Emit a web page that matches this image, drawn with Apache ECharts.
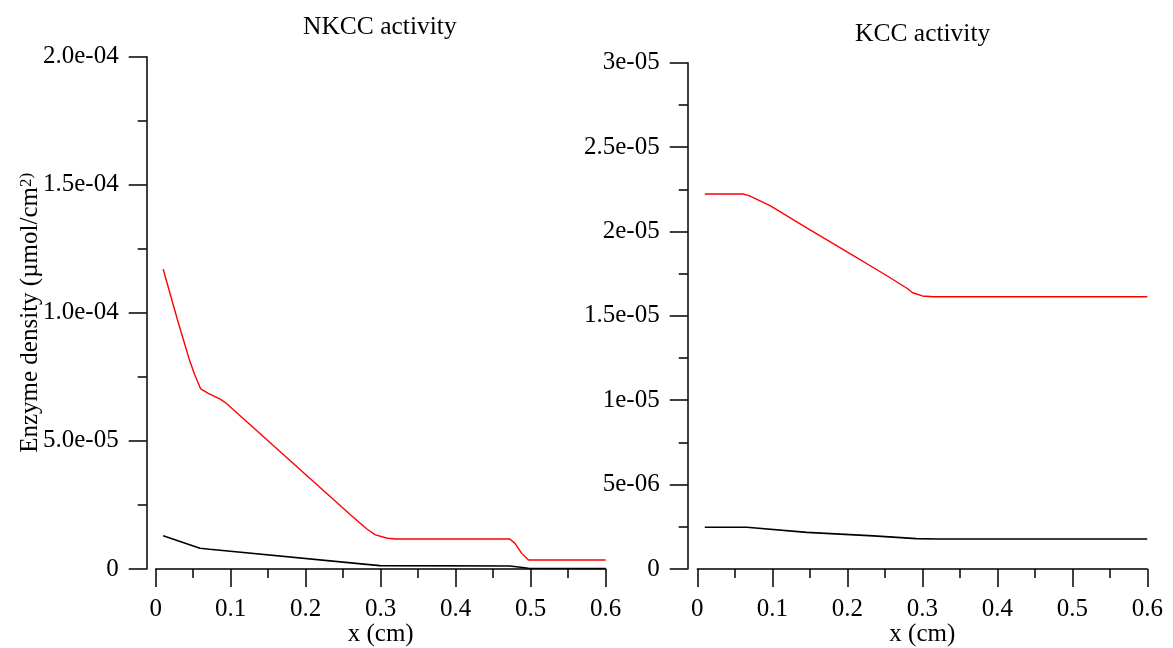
<!doctype html>
<meta charset="utf-8">
<title>NKCC / KCC activity</title>
<style>
	html, body { margin: 0; padding: 0; background: #fff; }
	#chart { width: 1173px; height: 648px; }
</style>
<div id="chart"></div>
<script src="https://cdn.jsdelivr.net/npm/echarts@6/dist/echarts.min.js"></script>
<script>
	// NKCC panel
	const nkccRedX = [0.01, 0.029, 0.045, 0.052, 0.06, 0.07, 0.086, 0.094, 0.26, 0.282, 0.293, 0.309, 0.32, 0.472, 0.479, 0.488, 0.497, 0.6];
	const nkccRedY = [1.17e-4, 9.73e-5, 8.16e-5, 7.58e-5, 7.03e-5, 6.86e-5, 6.63e-5, 6.47e-5, 2.11e-5, 1.55e-5, 1.33e-5, 1.2e-5, 1.17e-5, 1.17e-5, 1.0e-5, 6.1e-6, 3.5e-6, 3.5e-6];
	const nkccBlackX = [0.01, 0.059, 0.072, 0.281, 0.299, 0.472, 0.481, 0.497, 0.6];
	const nkccBlackY = [1.30e-5, 8.1e-6, 7.7e-6, 1.8e-6, 1.3e-6, 1.2e-6, 9e-7, 3e-7, 2e-7];
	// KCC panel
	const kccRedX = [0.01, 0.061, 0.069, 0.097, 0.147, 0.198, 0.249, 0.28, 0.287, 0.3, 0.315, 0.6];
	const kccRedY = [2.222e-5, 2.222e-5, 2.212e-5, 2.153e-5, 2.018e-5, 1.883e-5, 1.748e-5, 1.662e-5, 1.637e-5, 1.618e-5, 1.613e-5, 1.613e-5];
	const kccBlackX = [0.01, 0.066, 0.146, 0.235, 0.292, 0.32, 0.6];
	const kccBlackY = [2.47e-6, 2.47e-6, 2.17e-6, 1.96e-6, 1.80e-6, 1.78e-6, 1.78e-6];

	const titles = ["NKCC activity", "KCC activity"];
	const xName = "x (cm)";

	const FONT = "Liberation Serif";
	const FS = 25;

	function zip(xs, ys) { return xs.map(function (x, i) { return [x, ys[i]]; }); }

	// 2.0e-04 style labels, 0 stays 0
	function expLabel(digits) {
		return function (v) {
			if (Math.abs(v) < 1e-12) return "0";
			var s = digits == null ? parseFloat(v.toPrecision(6)).toExponential() : v.toExponential(digits);
			return s.replace(/e([+-])(\d)$/, "e$10$2");
		};
	}

	var axisLine = { onZero: false, lineStyle: { color: "#000", width: 1.5 } };
	var textStyle = { color: "#000", fontFamily: FONT, fontSize: FS };

	function xAxis(grid) {
		return {
			gridIndex: grid, type: "value", min: 0, max: 0.6, interval: 0.1,
			name: xName, nameLocation: "middle", nameGap: 53, nameMoveOverlap: false, nameTextStyle: textStyle,
			axisLine: axisLine,
			axisTick: { length: 18, lineStyle: { color: "#000", width: 1.5 } },
			minorTick: { show: true, splitNumber: 2, length: 9, lineStyle: { color: "#000", width: 1.5 } },
			axisLabel: Object.assign({ margin: 28 }, textStyle),
			splitLine: { show: false }
		};
	}

	function yAxis(grid, max, interval, fmt, offset) {
		return {
			gridIndex: grid, type: "value", position: "left", min: 0, max: max, interval: interval, offset: offset,
			axisLine: axisLine,
			axisTick: { length: 18, lineStyle: { color: "#000", width: 1.5 } },
			minorTick: { show: true, splitNumber: 2, length: 9, lineStyle: { color: "#000", width: 1.5 } },
			axisLabel: Object.assign({ margin: 28, formatter: fmt }, textStyle),
			splitLine: { show: false }
		};
	}

	var y0 = yAxis(0, 2e-4, 5e-5, expLabel(1), 9);
	y0.name = "{main|Enzyme density (µmol/cm}{sup|2)}";
	y0.nameLocation = "middle";
	y0.nameRotate = 90;
	y0.nameGap = 104;
	y0.nameMoveOverlap = false;
	y0.nameTextStyle = Object.assign({
		rich: {
			main: { fontFamily: FONT, fontSize: FS, color: "#000", lineHeight: 25, verticalAlign: "bottom" },
			sup: { fontFamily: FONT, fontSize: 17, color: "#000", lineHeight: 17, verticalAlign: "top", padding: [0, 0, 16, 0] }
		}
	}, textStyle);

	var titleStyle = { color: "#000", fontFamily: FONT, fontSize: 25.5, fontWeight: "normal" };

	var option = {
		backgroundColor: "#fff",
		animation: false,
		title: [
			{ text: titles[0], left: 303, top: 14, padding: 0, textStyle: titleStyle },
			{ text: titles[1], left: 855, top: 21, padding: 0, textStyle: titleStyle }
		],
		grid: [
			{ left: 155.7, top: 56.7, width: 450, height: 512.3, containLabel: false, outerBoundsMode: "none" },
			{ left: 697.3, top: 62.7, width: 450, height: 506.3, containLabel: false, outerBoundsMode: "none" }
		],
		xAxis: [xAxis(0), xAxis(1)],
		yAxis: [y0, yAxis(1, 3e-5, 5e-6, expLabel(null), 9.6)],
		series: [
			{ type: "line", xAxisIndex: 0, yAxisIndex: 0, data: zip(nkccRedX, nkccRedY), showSymbol: false, lineStyle: { color: "#ff0000", width: 1.4 } },
			{ type: "line", xAxisIndex: 0, yAxisIndex: 0, data: zip(nkccBlackX, nkccBlackY), showSymbol: false, lineStyle: { color: "#000", width: 1.6 } },
			{ type: "line", xAxisIndex: 1, yAxisIndex: 1, data: zip(kccRedX, kccRedY), showSymbol: false, lineStyle: { color: "#ff0000", width: 1.4 } },
			{ type: "line", xAxisIndex: 1, yAxisIndex: 1, data: zip(kccBlackX, kccBlackY), showSymbol: false, lineStyle: { color: "#000", width: 1.6 } }
		]
	};

	var chart = echarts.init(document.getElementById("chart"));
	chart.setOption(option);
</script>
